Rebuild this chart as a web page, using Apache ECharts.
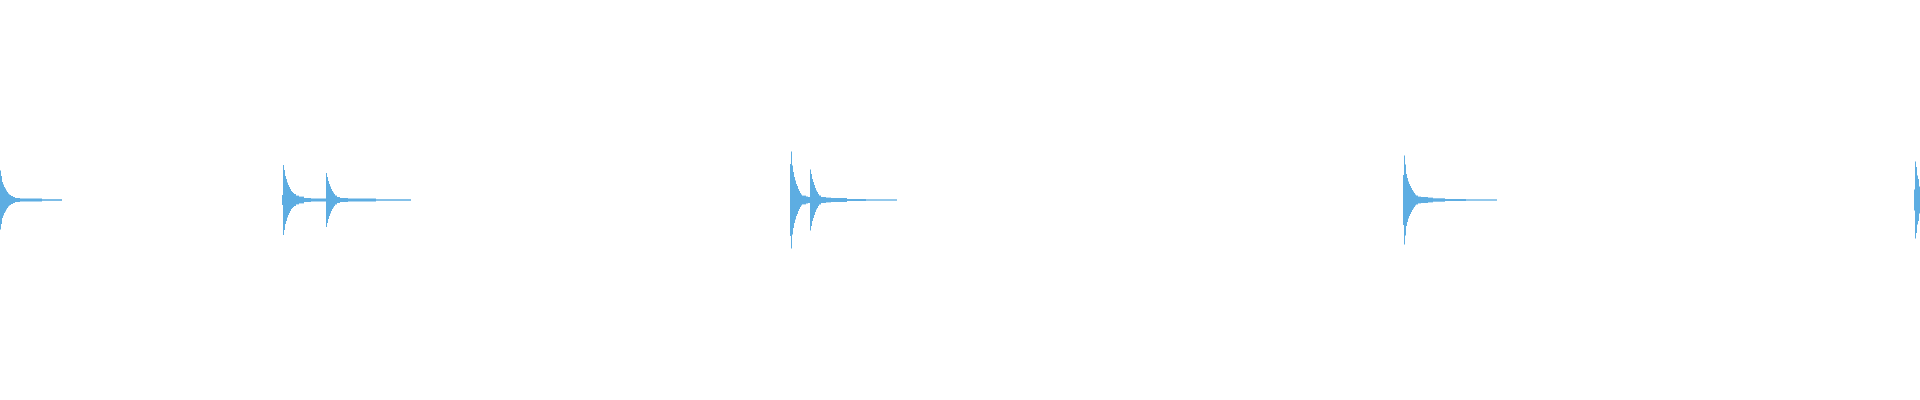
<!DOCTYPE html>
<html>
<head>
<meta charset="utf-8">
<title>waveform</title>
<script src="https://cdn.jsdelivr.net/npm/echarts@6/dist/echarts.min.js"></script>
<style>
  html, body { margin: 0; padding: 0; background: #fff; }
  #chart { width: 1920px; height: 400px; }
</style>
</head>
<body>
<div id="chart"></div>
<script>
// envelope change points: [sample, amplitude (full scale = 1)]
// each hit ends with a 0 where the tail stops
var hit1 = [[0,.148],[1,.12],[2,.09],[3,.078],[4,.065],[5,.058],[6,.048],[7,.04],[8,.033],[9,.028],[10,.025],
  [11,.02],[13,.015],[15,.01],[20,.0075],[42,.004],[62,0]];

var hit2 = [[282,.025],[283,.175],[284,.15],[285,.12],[286,.105],[287,.088],[288,.075],[289,.065],[290,.055],
  [291,.045],[292,.04],[293,.035],[294,.03],[296,.022],[299,.017],[304,.01],[311,.0075],
  [326,.135],[327,.115],[328,.095],[329,.08],[330,.068],[331,.055],[332,.045],[333,.038],[334,.03],
  [335,.022],[337,.015],[340,.01],[348,.0075],[376,.004],[411,0]];

var hit3 = [[790,.18],[791,.243],[792,.173],[793,.14],[794,.115],[795,.098],[796,.08],[797,.07],[798,.055],
  [799,.045],[800,.035],[801,.028],[802,.022],[806,.017],[808,.015],
  [810,.153],[811,.13],[812,.105],[813,.09],[814,.075],[815,.06],[816,.048],[817,.04],[818,.03],
  [819,.022],[821,.015],[826,.012],[831,.01],[847,.005],[866,.0033],[897,0]];

var hit4 = [[1403,.125],[1404,.223],[1405,.178],[1406,.13],[1407,.11],[1408,.093],[1409,.08],[1410,.07],
  [1411,.06],[1412,.05],[1413,.043],[1414,.035],[1415,.028],[1416,.022],[1418,.017],[1421,.015],
  [1428,.012],[1433,.0085],[1445,.005],[1466,.0033],[1497,0]];

var hit5 = [[1914,.053],[1915,.193],[1916,.165],[1917,.123],[1918,.105],[1919,.068],[1920,0]];

var totalSamples = 1920;

var hits = [hit1, hit2, hit3, hit4, hit5];

// turn change points into held segments [from, to, amplitude]
var segments = [];
hits.forEach(function (h) {
  for (var i = 0; i < h.length - 1; i++) {
    segments.push([h[i][0], h[i + 1][0], h[i][1]]);
  }
});

var chart = echarts.init(document.getElementById('chart'));

chart.setOption({
  animation: false,
  backgroundColor: '#ffffff',
  grid: { left: 0, right: 0, top: 0, bottom: 0 },
  xAxis: { type: 'value', min: 0, max: totalSamples, show: false },
  yAxis: { type: 'value', min: -1, max: 1, show: false },
  series: [{
    type: 'custom',
    silent: true,
    data: segments,
    encode: { x: [0, 1], y: 2 },
    renderItem: function (params, api) {
      var p0 = api.coord([api.value(0), api.value(2)]);
      var p1 = api.coord([api.value(1), -api.value(2)]);
      return {
        type: 'rect',
        shape: { x: p0[0], y: p0[1], width: p1[0] - p0[0], height: p1[1] - p0[1] },
        style: { fill: '#5dade2' }
      };
    }
  }]
});
</script>
</body>
</html>
